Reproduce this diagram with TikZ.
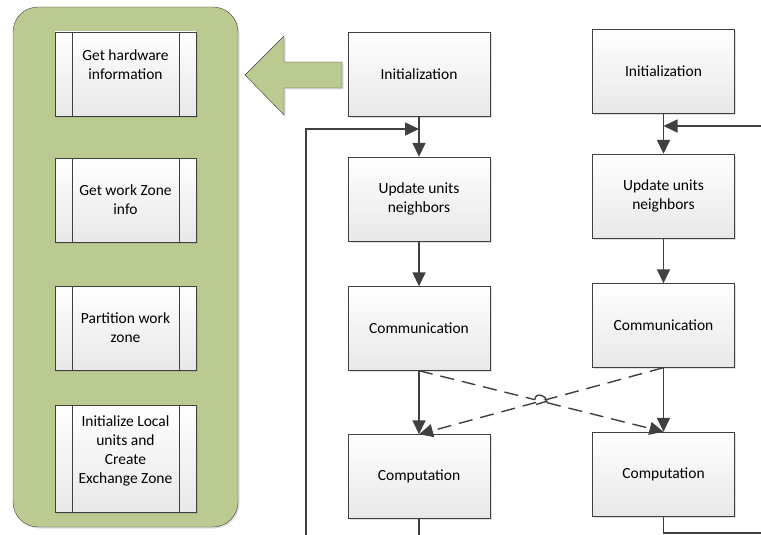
\documentclass[tikz,border=0pt]{standalone}
\usepackage{fontspec}
\setmainfont{Carlito}
\usetikzlibrary{arrows.meta,shadows}

\definecolor{panelgreen}{RGB}{187,202,144}
\definecolor{linegray}{RGB}{64,64,64}

\tikzset{
  flowbox/.style={draw=linegray,thin,top color=white,bottom color=black!9,
    minimum width=142pt,minimum height=84pt,align=center,
    drop shadow={shadow xshift=1.5pt,shadow yshift=-1.5pt,opacity=.25}},
  procbox/.style={flowbox,minimum width=141pt,
    path picture={
      \draw[linegray,thin] ([xshift=17pt]path picture bounding box.north west) -- ([xshift=17pt]path picture bounding box.south west);
      \draw[linegray,thin] ([xshift=-17pt]path picture bounding box.north east) -- ([xshift=-17pt]path picture bounding box.south east);}},
  flow/.style={draw=linegray,line width=1.6pt,-{Triangle[length=14pt,width=13pt]}},
  crossflow/.style={flow,dash pattern=on 14pt off 8pt,line width=1.4pt}
}

\begin{document}
\begin{tikzpicture}[x=1pt,y=-1pt,font=\fontsize{15.5}{19}\selectfont]
  \useasboundingbox (0,0) rectangle (761,535);

  % green panel and the big arrow
  \draw[linegray,fill=panelgreen,rounded corners=25pt,
    drop shadow={shadow xshift=1.5pt,shadow yshift=-1.5pt,opacity=.25}] (13,7) rectangle (238,527);
  \draw[linegray,fill=panelgreen,
    drop shadow={shadow xshift=1.5pt,shadow yshift=-1.5pt,opacity=.25}]
    (245,75) -- (284,36) -- (284,62) -- (342,62) -- (342,88) -- (284,88) -- (284,115) -- cycle;

  % steps of the initialization
  \node[procbox] (hw) at (125.5,74) {};
  \node[align=center] (hwtext) at (125.5,64.5) {Get hardware\\information};
  \node[procbox] (zone) at (125.5,200) {Get work Zone\\info};
  \node[procbox] (part) at (125.5,328) {Partition work\\zone};
  \node[procbox,minimum height=107pt] (local) at (125.5,458.5) {};
  \node[align=center] (localtext) at (125.5,450.5) {Initialize Local\\units and\\Create\\Exchange Zone};

  % first process
  \node[flowbox] (initA) at (419,74) {Initialization};
  \node[flowbox] (updA) at (419,199) {Update units\\neighbors};
  \node[flowbox] (commA) at (419,328.5) {Communication};
  \node[flowbox] (compA) at (419,476.5) {Computation};

  % second process
  \node[flowbox] (initB) at (663.5,71) {Initialization};
  \node[flowbox] (updB) at (663.5,196) {Update units\\neighbors};
  \node[flowbox] (commB) at (663.5,325.5) {Communication};
  \node[flowbox] (compB) at (663.5,474) {Computation};

  \coordinate (loopA) at (306,540);
  \coordinate (joinA) at (419,129);
  \coordinate (endA) at (419,540);
  \coordinate (loopB) at (766,126);
  \coordinate (joinB) at (663.5,126);
  \coordinate (endB) at (766,533);

  \draw[flow] (initA) -- (updA);
  \draw[flow] (updA) -- (commA);
  \draw[flow] (commA) -- (compA);
  \draw[draw=linegray,line width=1.6pt] (compA) -- (endA);
  \draw[flow] (loopA) |- (joinA);

  \draw[flow] (initB) -- (updB);
  \draw[flow] (updB) -- (commB);
  \draw[flow] (commB) -- (compB);
  \draw[draw=linegray,line width=1.6pt] (compB) |- (endB);
  \draw[flow] (loopB) -- (joinB);

  \draw[crossflow] (commA.south) -- (compB.north);
  \draw[crossflow] (commB.south) -- (compA.north);

  % hop where the dashed lines cross
  \coordinate (hopL) at (535,399.5);
  \coordinate (hopR) at (547,402.5);
  \draw[white,line width=3pt] (hopL) -- (hopR);
  \draw[linegray,line width=1.4pt] (hopL) .. controls (535,392) and (547,395) .. (hopR);
  \draw[linegray,line width=1.4pt] (536,404.5) -- (546,401.5);
\end{tikzpicture}
\end{document}
